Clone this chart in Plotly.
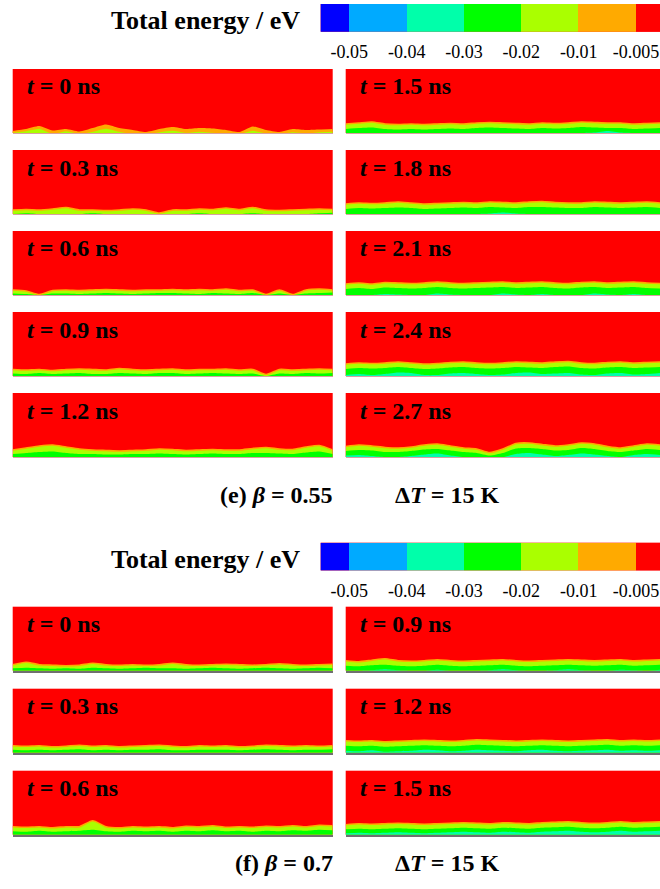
import plotly.graph_objects as go
import numpy as np

W, H = 660, 889

# ---------------- colour bins (Tecplot style) ----------------
bin_colors = ["#0000FF", "#00AAFF", "#00FFAA", "#00FF00", "#AAFF00", "#FFAA00", "#FF0000"]
bin_labels = ["-0.05", "-0.04", "-0.03", "-0.02", "-0.01", "-0.005"]
cbar_title = "Total energy / eV"

layer_colors = {"orange": "#FFAA00", "yg": "#AAFF00", "green": "#00FF00", "cyan": "#00FFAA"}

# ---------------- panel times ----------------
times_e = ["0", "0.3", "0.6", "0.9", "1.2", "1.5", "1.8", "2.1", "2.4", "2.7"]
times_f = ["0", "0.3", "0.6", "0.9", "1.2", "1.5"]

# ---------------- layer-top profiles (height above wall, panel height = 64) ----------------
e_t00 = dict(orange=[2, 4, 7, 2.5, 4, 1.5, 5, 8.5, 5, 3, 1, 4, 6, 4, 5, 4.5, 3, 1, 6.5, 3, 1, 4, 3, 3.5, 4],
             yg=[1, 2.5, 5, 0, 2.5, 0, 2, 5, 2, 0, 0, 1.5, 3, 1, 2, 1, 0, 0, 3, 0.5, 0, 1.5, 0.5, 1.5, 2])
e_t03 = dict(yg=[4, 4.5, 4, 5, 6.5, 4, 4, 3.5, 4, 5, 4, 1, 4, 4, 5, 4.5, 6, 4.5, 6.5, 4, 3.5, 4, 4.5, 5, 4.5],
             green=[0, 0.8, 0, 0, 0, 0, 0.8, 0, 0, 0, 0, 0, 0, 0, 0.8, 0, 0, 0, 0.8, 0, 0, 0, 0, 0.8, 1.2])
e_t06 = dict(yg=[5, 4, 0.5, 4.5, 5, 4.5, 5, 5.5, 5, 4.5, 5, 5, 5.5, 5, 5.5, 5, 6, 4.5, 5, 0.5, 5, 0.5, 5, 6, 5],
             green=[1.5, 1, 0, 1.5, 1.5, 1, 1.5, 2, 1.5, 1, 1.5, 2, 2, 1.5, 1, 2, 1.5, 1, 2, 0, 1.5, 0, 1.5, 2, 2.5])
e_t09 = dict(yg=[6.5, 6, 6.5, 5.5, 6.5, 7, 6.5, 6, 7.5, 6.5, 6, 6.5, 7, 6, 6.5, 6.5, 7, 6, 6.5, 1.5, 6.5, 6, 6.5, 7, 6.5],
             green=[2.5, 2, 3, 2, 2.5, 3, 2, 2, 3, 2.5, 2, 3, 3, 2, 2.5, 3, 2.5, 2, 2.5, 0, 2.5, 2, 3, 2.5, 3])
e_t12 = dict(yg=[7, 9, 11, 12, 10, 8, 7, 6.5, 6, 6.5, 7, 8, 7.5, 6.5, 7, 7.5, 7, 7, 8.5, 9.5, 8, 7.5, 10, 11.5, 7],
             green=[3, 4, 5, 5.5, 4, 3, 3, 2.5, 2.5, 3, 3, 3.5, 3, 2.5, 3, 3.5, 3, 3, 4, 4, 3.5, 3, 4.5, 5.5, 3])
e_t15 = dict(yg=[9, 10, 11, 9, 8.5, 9, 8.5, 9, 9.5, 9, 10, 10.5, 10, 9.5, 9, 10, 9.5, 10, 11, 10.5, 10, 10, 9, 9.5, 10],
             green=[4, 5, 5.5, 4, 3.5, 4, 3.5, 4, 4.5, 4, 5, 5.5, 5, 4.5, 4, 5, 4.5, 5, 6, 5.5, 5, 5, 4, 4.5, 5],
             cyan=[0, 0, 0, 0, 0, 0, 0, 0, 0, 0, 0, 0, 0, 0, 0, 0, 0, 0, 0, 0.5, 2, 0.5, 0, 0, 0])
e_t18 = dict(yg=[10, 11, 10.5, 11, 12, 11, 10, 10.5, 11, 11.5, 11, 12, 11.5, 11, 12, 12.5, 11.5, 11, 11, 12, 11.5, 11, 11.5, 12, 11],
             green=[5, 6, 5.5, 6, 6.5, 6, 5, 5.5, 6, 6.5, 6, 7, 6.5, 6, 7, 7, 6.5, 6, 6, 7, 6.5, 6, 6.5, 7, 6],
             cyan=[0, 0, 0, 0, 0, 0, 0, 0, 0, 0, 0, 0.5, 1.5, 0.5, 0, 0, 0, 0, 0, 0, 0, 0, 0, 0, 0])
e_t21 = dict(yg=[11, 12, 11, 12.5, 12, 11.5, 12, 13, 12, 11.5, 12, 12.5, 13, 12, 12.5, 13, 12, 11.5, 12.5, 13, 12, 12.5, 13, 12, 11.5],
             green=[6, 7, 6, 7.5, 7, 6.5, 7, 8, 7, 6.5, 7, 7.5, 8, 7, 7.5, 8, 7, 6.5, 7.5, 8, 7, 7.5, 8, 7, 6.5],
             cyan=[0, 0, 0, 1, 0.5, 0, 0, 1.5, 0.5, 0, 0, 0, 1.5, 0.5, 0, 1, 0, 0, 0, 1.5, 0.5, 0, 1, 0, 0])
e_t24 = dict(yg=[12, 13, 12.5, 13, 14, 13, 12, 12.5, 13.5, 14, 13, 12.5, 13, 14, 13.5, 13, 14, 14.5, 13, 12.5, 13.5, 14, 13, 13.5, 14],
             green=[7, 8, 7.5, 8, 9, 8, 7, 7.5, 8.5, 9, 8, 7.5, 8, 9, 8.5, 8, 9, 9.5, 8, 7.5, 8.5, 9, 8, 8.5, 9],
             cyan=[1, 2, 1, 2, 3.5, 3, 1, 1, 2.5, 3, 2, 1, 1.5, 3, 3.5, 2, 2.5, 3, 1.5, 1, 2.5, 3, 1.5, 2, 3])
e_t27 = dict(yg=[10.5, 12, 11, 9.5, 9, 10, 12, 13, 11, 9, 8, 4.5, 8, 13.5, 14, 12.5, 11, 12, 14, 13, 10.5, 9, 11, 13, 12],
             green=[6, 7, 6.5, 5, 5, 6, 7.5, 8, 6.5, 5, 4, 1.5, 4, 8.5, 9, 8, 6.5, 7, 9, 8, 6, 5, 6.5, 8, 7],
             cyan=[1.5, 2, 1, 0, 0, 1, 2.5, 3.5, 1.5, 0, 0, 0, 0, 3, 4, 2.5, 1, 2, 3.5, 2.5, 1, 0, 2, 3, 2])

f_t00 = dict(yg=[6, 8.5, 6, 5.5, 5, 5.5, 7.5, 6, 5.5, 6, 5.5, 6, 7.5, 6, 5.5, 6, 6.5, 6, 5.5, 6, 7, 6, 5.5, 6, 6.5],
             green=[2.5, 3, 2.5, 2, 2.5, 2, 3, 2.5, 2, 2.5, 3, 2.5, 2.5, 2, 2.5, 3, 2.5, 2, 2.5, 3, 2.5, 2, 2.5, 3, 2.5])
f_t03 = dict(yg=[7, 6.5, 7, 6, 6.5, 7.5, 6.5, 7, 6, 6.5, 7, 7.5, 6.5, 6, 7, 6.5, 7, 6, 6.5, 7.5, 7, 6.5, 7, 6.5, 7],
             green=[3, 2.5, 3, 2.5, 3, 3.5, 2.5, 3, 2.5, 3, 3, 3.5, 2.5, 2.5, 3, 3, 3, 2.5, 3, 3.5, 3, 2.5, 3, 3, 3.5])
f_t06 = dict(yg=[8, 7.5, 8, 7, 8, 8, 14, 8, 7, 8, 7.5, 8, 7, 8.5, 8, 9, 7.5, 8, 7.5, 8.5, 8, 9, 8, 9.5, 9],
             green=[3.5, 3, 4, 3, 3.5, 4, 5, 3.5, 3, 4, 3.5, 4, 3, 4, 3.5, 4.5, 3.5, 4, 3, 4, 3.5, 4.5, 4, 5, 4.5])
f_t09 = dict(yg=[10, 9, 10.5, 12, 10, 9.5, 10, 11, 10, 9.5, 10, 10.5, 11, 10, 9.5, 10, 10.5, 11, 10.5, 10, 10.5, 11, 10, 10.5, 11],
             green=[5, 4.5, 5.5, 6, 5, 4.5, 5, 6, 5, 4.5, 5, 5.5, 6, 5, 4.5, 5, 5.5, 6, 5.5, 5, 5.5, 6, 5, 5.5, 6],
             cyan=[0, 0, 0.5, 1.5, 0.5, 0, 0, 1, 0, 0, 0, 0.5, 1.5, 0.5, 0, 0, 0.5, 1.5, 0.5, 0, 0, 1, 0.5, 0, 1])
f_t12 = dict(yg=[12, 11.5, 12, 11, 11.5, 12, 12.5, 12, 11.5, 12, 13, 12.5, 12, 11.5, 12, 12.5, 12, 11.5, 12, 12.5, 13, 12, 12.5, 12, 12.5],
             green=[7, 6.5, 7, 6, 6.5, 7, 7.5, 7, 6.5, 7, 8, 7.5, 7, 6.5, 7, 7.5, 7, 6.5, 7, 7.5, 8, 7, 7.5, 7, 7.5],
             cyan=[2, 1.5, 2.5, 1, 1.5, 2, 3, 2.5, 1.5, 2, 3, 2.5, 2, 1.5, 2.5, 3, 2, 1.5, 2, 2.5, 3, 2, 2.5, 2, 2.5])
f_t15 = dict(yg=[10, 11, 10.5, 11, 11.5, 11, 10.5, 11, 11.5, 12, 11.5, 11, 12, 11.5, 11, 12, 12.5, 13, 12, 11.5, 12, 13, 12, 12.5, 13],
             green=[5.5, 6, 5.5, 6, 6.5, 6, 5.5, 6, 6.5, 7, 6.5, 6, 7, 6.5, 6, 7, 7.5, 8, 7, 6.5, 7, 8, 7, 7.5, 8],
             cyan=[1.5, 2, 1.5, 2, 2.5, 2, 1.5, 2, 2.5, 3, 2.5, 2, 3, 2.5, 2, 3, 3.5, 4, 3, 2.5, 3, 4, 3, 3.5, 4])

panels_e = [e_t00, e_t03, e_t06, e_t09, e_t12, e_t15, e_t18, e_t21, e_t24, e_t27]
panels_f = [f_t00, f_t03, f_t06, f_t09, f_t12, f_t15]

captions = [("(e) <i>β</i> = 0.55", "Δ<i>T</i> = 15 K"), ("(f) <i>β</i> = 0.7", "Δ<i>T</i> = 15 K")]

# ---------------- layout geometry (pixels) ----------------
SERIF = "Liberation Serif"
col_x = [(12.7, 332.7), (345.7, 660.0)]
rows_e = [69.0, 150.0, 231.0, 312.0, 393.0]
rows_f = [606.7, 688.7, 770.7]
panel_h = 64.0
cbar_y = [(4.0, 31.7), (542.7, 570.4)]
cbar_x = (320.7, 660.0)
caption_y = [495.0, 863.0]

def px(x):
    return x / W

def py(y):
    return 1 - y / H

fig = go.Figure()
layout = dict()
annotations = []
ax_i = [0]

def new_axes():
    ax_i[0] += 1
    n = ax_i[0]
    return "" if n == 1 else str(n)

PROFILE_H = 64

def add_panel(x0, x1, top, data, label, linecol, linew):
    sfx = new_axes()
    for key in ["orange", "yg", "green", "cyan"]:
        if key not in data:
            continue
        prof = data[key]
        xs = np.arange(len(prof))
        line = dict(width=0, shape="spline", smoothing=0.6)
        if key == "yg":
            line = dict(width=1.6, color="#FFAA00", shape="spline", smoothing=0.6)
        fig.add_trace(go.Scatter(x=xs, y=prof, mode="lines", fill="tozeroy",
                                 fillcolor=layer_colors[key], line=line,
                                 xaxis="x" + sfx, yaxis="y" + sfx,
                                 hoverinfo="skip", showlegend=False))
    npts = len(next(iter(data.values())))
    layout["xaxis" + sfx] = dict(domain=[px(x0), px(x1)], range=[0, npts - 1],
                                 anchor="y" + sfx, showgrid=False, zeroline=False,
                                 showticklabels=False, ticks="",
                                 showline=True, linecolor=linecol, linewidth=linew)
    layout["yaxis" + sfx] = dict(domain=[py(top + panel_h), py(top)], range=[0, PROFILE_H],
                                 anchor="x" + sfx, showgrid=False, zeroline=False,
                                 showticklabels=False, ticks="")
    annotations.append(dict(text="<i>t</i> = " + label + " ns", xref="paper", yref="paper",
                            x=px(x0 + 12.0), y=py(top + 17.5), xanchor="left", yanchor="middle",
                            showarrow=False,
                            font=dict(family=SERIF, size=24, color="black", weight="bold")))

def add_cbar(y0, y1):
    sfx = new_axes()
    edges = np.arange(len(bin_colors) + 1) - 0.5
    cs = [[i / (len(bin_colors) - 1), c] for i, c in enumerate(bin_colors)]
    fig.add_trace(go.Heatmap(z=[list(range(len(bin_colors)))], x=edges, y=[0],
                             colorscale=cs, zmin=0, zmax=len(bin_colors) - 1,
                             showscale=False, hoverinfo="skip",
                             xaxis="x" + sfx, yaxis="y" + sfx))
    block = 57.33
    span = (cbar_x[1] - cbar_x[0]) / block
    layout["xaxis" + sfx] = dict(domain=[px(cbar_x[0]), px(cbar_x[1])], range=[0, span],
                                 anchor="y" + sfx, showgrid=False, zeroline=False,
                                 tickvals=list(np.arange(len(bin_labels)) + 0.5),
                                 ticktext=bin_labels, ticks="outside", ticklen=4,
                                 tickcolor="rgba(0,0,0,0)",
                                 tickfont=dict(family=SERIF, size=18, color="black"))
    layout["yaxis" + sfx] = dict(domain=[py(y1), py(y0)], range=[-0.5, 0.5],
                                 anchor="x" + sfx, showgrid=False, zeroline=False,
                                 showticklabels=False, ticks="")
    annotations.append(dict(text=cbar_title, xref="paper", yref="paper",
                            x=px(302), y=py((y0 + y1) / 2 + 3), xanchor="right", yanchor="middle",
                            showarrow=False,
                            font=dict(family=SERIF, size=26, color="black", weight="bold")))

# section (e)
add_cbar(*cbar_y[0])
for i, (data, t) in enumerate(zip(panels_e, times_e)):
    col, row = divmod(i, len(rows_e))
    add_panel(col_x[col][0], col_x[col][1], rows_e[row], data, t, "#d9a0a0", 1)
# section (f)
add_cbar(*cbar_y[1])
for i, (data, t) in enumerate(zip(panels_f, times_f)):
    col, row = divmod(i, len(rows_f))
    add_panel(col_x[col][0], col_x[col][1], rows_f[row], data, t, "#707070", 2)

for (left, right), cy in zip(captions, caption_y):
    annotations.append(dict(text=left, xref="paper", yref="paper", x=px(335), y=py(cy),
                            xanchor="right", yanchor="middle", showarrow=False,
                            font=dict(family=SERIF, size=24, color="black", weight="bold")))
    annotations.append(dict(text=right, xref="paper", yref="paper", x=px(393), y=py(cy),
                            xanchor="left", yanchor="middle", showarrow=False,
                            font=dict(family=SERIF, size=24, color="black", weight="bold")))

fig.update_layout(width=W, height=H, margin=dict(l=0, r=0, t=0, b=0),
                  paper_bgcolor="white", plot_bgcolor="#FF0000",
                  annotations=annotations, **layout)

fig.write_html("out.html")
